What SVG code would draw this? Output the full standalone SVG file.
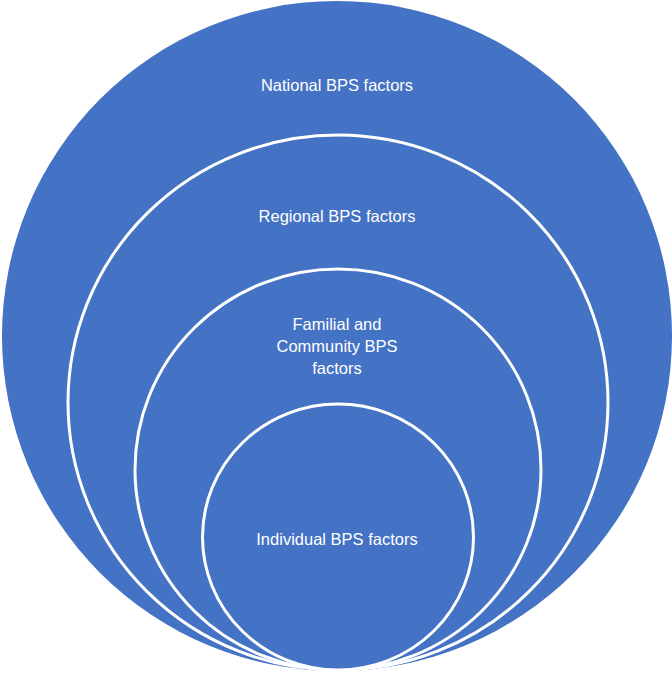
<svg xmlns="http://www.w3.org/2000/svg" width="672" height="673" viewBox="0 0 672 673">
<style>
.ring{fill:#4472C4;stroke:#FFFFFF;stroke-width:3}
.outer{fill:#4472C4;stroke:none}
.lbl{font-family:"Liberation Sans",Arial,sans-serif;font-size:16.5px;fill:#FFFFFF;text-anchor:middle}
</style>
<rect width="672" height="673" fill="#FFFFFF"/>
<g id="national">
<ellipse class="outer" cx="337" cy="336" rx="335" ry="335"/>
<text class="lbl" x="337" y="91">National BPS factors</text>
</g>
<g id="regional">
<ellipse class="ring" cx="338" cy="402.5" rx="270" ry="267.5"/>
<text class="lbl" x="337" y="222">Regional BPS factors</text>
</g>
<g id="familial">
<ellipse class="ring" cx="338" cy="469.5" rx="203" ry="200.5"/>
<text class="lbl" x="337" y="329.5">Familial and</text>
<text class="lbl" x="337" y="352">Community BPS</text>
<text class="lbl" x="337" y="374">factors</text>
</g>
<g id="individual">
<ellipse class="ring" cx="338" cy="537" rx="135.5" ry="133"/>
<text class="lbl" x="337" y="544.5">Individual BPS factors</text>
</g>
<g id="connectors"/>
</svg>
